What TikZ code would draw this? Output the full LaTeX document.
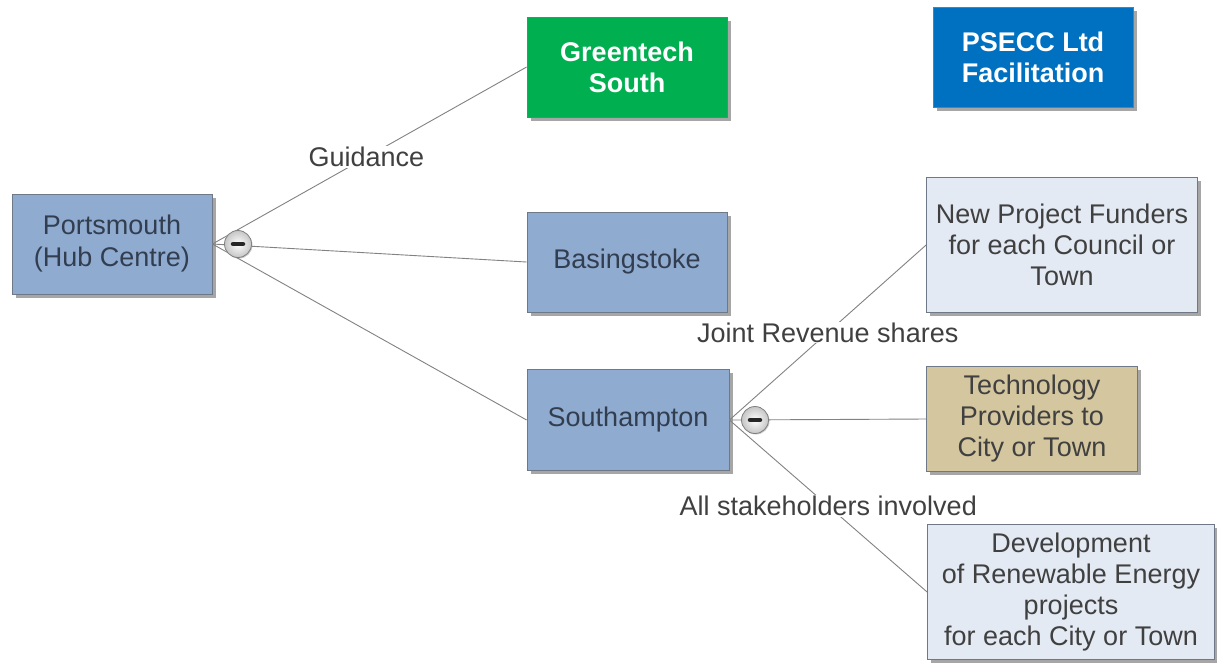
\documentclass[tikz,border=0pt]{standalone}
\usepackage{fontspec}
\setmainfont{Liberation Sans}
\usetikzlibrary{shadows}
\definecolor{hubblue}{RGB}{143,171,208}
\definecolor{hubtext}{RGB}{50,62,80}
\definecolor{boxborder}{RGB}{110,120,135}
\definecolor{greenbox}{RGB}{0,176,80}
\definecolor{psecc}{RGB}{0,112,192}
\definecolor{lightbox}{RGB}{228,234,244}
\definecolor{tanbox}{RGB}{212,198,158}
\definecolor{txtgray}{RGB}{64,64,64}
\definecolor{linegray}{RGB}{130,130,130}
\begin{document}
\begin{tikzpicture}[x=1pt,y=-1pt,
  box/.style={rectangle, draw=boxborder, line width=0.8pt, align=center, inner sep=0pt,
    drop shadow={shadow xshift=3.5pt, shadow yshift=-3.5pt, fill=black, opacity=0.35},
    font=\fontsize{27}{32}\selectfont},
  hub/.style={box, fill=hubblue, text=hubtext, minimum width=200pt, minimum height=100pt},
  head/.style={box, text=white, font=\fontsize{27}{31}\selectfont\bfseries, minimum width=200pt, minimum height=100pt},
  leaf/.style={box, text=txtgray, font=\fontsize{27}{31}\selectfont},
  conn/.style={draw=linegray, line width=0.9pt},
  lbl/.style={fill=white, text=txtgray, inner sep=1pt, font=\fontsize{27}{31}\selectfont},
  knob/.style={circle, draw=gray, line width=0.8pt, inner color=white, outer color=gray!45, minimum size=27pt, inner sep=0pt,
    drop shadow={shadow xshift=1pt, shadow yshift=-1pt, fill=black, opacity=0.2}},
  minus/.style={line width=4.5pt, line cap=round, draw=black!85}
]
\useasboundingbox (0,0) rectangle (1217,665);
\fill[white] (0,0) rectangle (1217,665);

\node[hub] (port) at (112,244) {Portsmouth\\(Hub Centre)};
\node[head, fill=greenbox] (green) at (627,67) {Greentech\\South};
\node[head, fill=psecc] (psecc) at (1033,57) {PSECC Ltd\\Facilitation};
\node[hub] (basing) at (627,262) {Basingstoke};
\node[hub, minimum width=202pt, minimum height=101pt] (south) at (628,420) {Southampton};
\node[leaf, fill=lightbox, minimum width=271pt, minimum height=135pt] (fund) at (1062,245) {New Project Funders\\for each Council or\\Town};
\node[leaf, fill=tanbox, minimum width=211pt, minimum height=105pt] (tech) at (1032,419) {Technology\\Providers to\\City or Town};
\node[leaf, fill=lightbox, minimum width=287pt, minimum height=135pt] (dev) at (1071,592) {Development\\of Renewable Energy\\projects\\for each City or Town};

\draw[conn] (port.east) -- (green.west) node[lbl, pos=0.49] (lg) {Guidance};
\draw[conn] (port.east) -- (basing.west);
\draw[conn] (port.east) -- (south.west);
\draw[conn] (south.east) -- (fund.west) node[lbl, pos=0.5] (lj) {Joint Revenue shares};
\draw[conn] (south.east) -- (tech.west);
\draw[conn] (south.east) -- (dev.west) node[lbl, pos=0.5] (la) {All stakeholders involved};

\node[knob] (k1) at (238,244) {};
\draw[minus] ([xshift=-5pt]k1.center) -- ([xshift=5pt]k1.center);
\node[knob] (k2) at (755,420) {};
\draw[minus] ([xshift=-5pt]k2.center) -- ([xshift=5pt]k2.center);
\end{tikzpicture}
\end{document}
